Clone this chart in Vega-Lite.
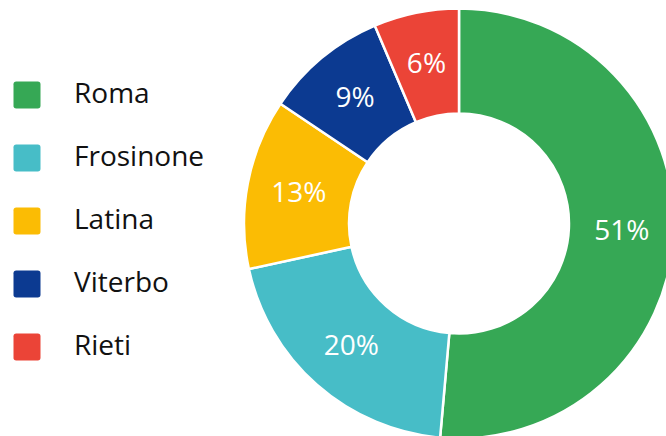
{
  "$schema": "https://vega.github.io/schema/vega-lite/v6.json",
  "autosize": {"type": "none"},
  "width": 414,
  "height": 425,
  "padding": {"left": 252, "top": 11, "right": 0, "bottom": 0},
  "background": "white",
  "data": {
    "values": [
      {"provincia": "Roma", "quota": 0.514, "ordine": 1},
      {"provincia": "Frosinone", "quota": 0.202, "ordine": 2},
      {"provincia": "Latina", "quota": 0.128, "ordine": 3},
      {"provincia": "Viterbo", "quota": 0.092, "ordine": 4},
      {"provincia": "Rieti", "quota": 0.064, "ordine": 5}
    ]
  },
  "encoding": {
    "theta": {"field": "quota", "type": "quantitative", "stack": true},
    "order": {"field": "ordine", "type": "quantitative"}
  },
  "layer": [
    {
      "mark": {"type": "arc", "outerRadius": 215, "innerRadius": 110, "stroke": "white", "strokeWidth": 2.5},
      "encoding": {
        "color": {
          "field": "provincia",
          "type": "nominal",
          "scale": {
            "domain": ["Roma", "Frosinone", "Latina", "Viterbo", "Rieti"],
            "range": ["#36A855", "#47BDC7", "#FBBC04", "#0C3A91", "#EB4437"]
          },
          "legend": {
            "title": null,
            "orient": "none",
            "legendX": -239,
            "legendY": 70,
            "symbolType": "M -0.8 -1 L 0.8 -1 Q 1 -1 1 -0.8 L 1 0.8 Q 1 1 0.8 1 L -0.8 1 Q -1 1 -1 0.8 L -1 -0.8 Q -1 -1 -0.8 -1 Z",
            "symbolSize": 729,
            "symbolStrokeWidth": 0,
            "symbolOpacity": 1,
            "labelFontSize": 28,
            "labelFont": "Open Sans",
            "labelColor": "#111111",
            "labelOffset": 33,
            "rowPadding": 35,
            "labelLimit": 300
          }
        }
      }
    },
    {
      "mark": {"type": "text", "radius": 163, "fontSize": 28, "font": "Open Sans", "fill": "white", "align": "center", "baseline": "middle", "dy": 1},
      "encoding": {
        "text": {"field": "quota", "type": "quantitative", "format": ".0%"}
      }
    }
  ]
}
